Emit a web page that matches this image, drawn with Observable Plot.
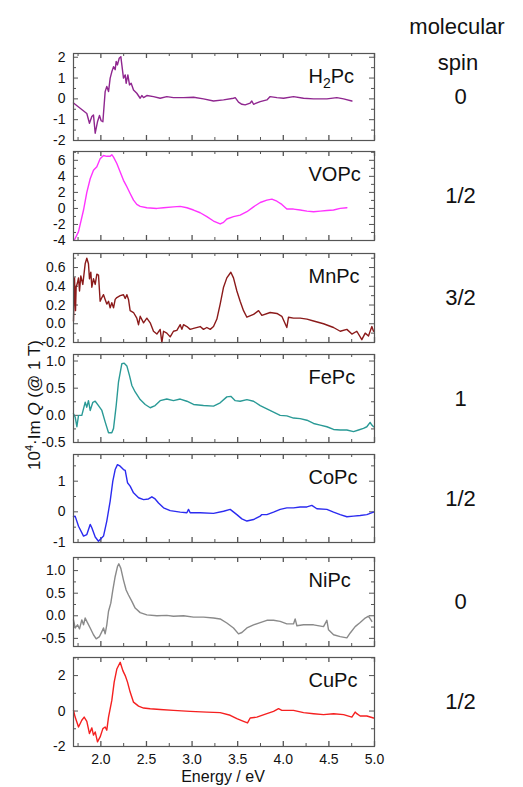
<!DOCTYPE html>
<html><head><meta charset="utf-8">
<script src="https://cdn.jsdelivr.net/npm/d3@7"></script>
<script src="https://cdn.jsdelivr.net/npm/@observablehq/plot@0.6"></script>
<style>
body{margin:0;background:#fff;}
#chart{position:relative;width:523px;height:787px;overflow:hidden;font-family:"Liberation Sans",Arial,sans-serif;color:#111;}
#chart svg{position:absolute;left:0;}
.lbl{position:absolute;transform:translate(-50%,-50%);white-space:nowrap;line-height:1.1;}
</style></head><body><div id="chart"></div>
<script>
// ---------- data ----------
const names = ["H2Pc","VOPc","MnPc","FePc","CoPc","NiPc","CuPc"];
const spins = ["0","1/2","3/2","1","1/2","0","1/2"];
const colors = ["#8f268f","#ff33ff","#8b1a1a","#2a9a96","#2b2bf0","#8a8a8a","#f52020"];
const xTicks = [2.0,2.5,3.0,3.5,4.0,4.5,5.0];
const xMinorTicks = [1.75,2.25,2.75,3.25,3.75,4.25,4.75];

const yDomains = [[-2,2.18],[-4,7.1],[-0.2,0.75],[-0.5,1.12],[-1,1.87],[-0.68,1.29],[-2,3.02]];
const yTicks = [[-2,-1,0,1,2],[-4,-2,0,2,4,6],[-0.2,0,0.2,0.4,0.6],[-0.5,0,0.5,1.0],[-1,0,1],[-0.5,0,0.5,1.0],[-2,0,2]];
const yMinorTicks = [[-1.5,-0.5,0.5,1.5],[-3,-1,1,3,5,7],[-0.1,0.1,0.3,0.5,0.7],[-0.25,0.25,0.75],[-0.5,0.5,1.5],[-0.25,0.25,0.75],[-1,1,3]];
const yDecimals = [0,0,1,1,0,1,0];

const h2pcE = [1.700,1.773,1.846,1.875,1.901,1.919,1.938,1.963,1.985,2.003,2.022,2.047,2.065,2.084,2.102,2.120,2.139,2.157,2.168,2.182,2.201,2.219,2.230,2.248,2.267,2.277,2.296,2.314,2.332,2.358,2.394,2.431,2.449,2.468,2.504,2.577,2.650,2.723,2.796,2.906,3.016,3.125,3.235,3.345,3.454,3.473,3.509,3.546,3.582,3.637,3.655,3.674,3.747,3.820,3.856,3.930,4.003,4.112,4.222,4.332,4.478,4.587,4.661,4.752];
const h2pcV = [-0.2,-0.45,-0.7,-1.17,-0.85,-0.77,-1.65,-1.1,-0.8,-1.05,-1.1,0.35,0.6,0.35,1.0,1.3,1.55,1.4,1.8,1.63,1.95,2.03,1.63,1.0,1.15,0.75,1.15,0.67,0.75,0.43,0.27,0.03,0.16,0.06,0.16,0.11,0.03,0.11,0.06,0.06,0.08,0.0,-0.1,-0.05,0.03,0.06,-0.16,-0.26,-0.29,-0.2,-0.1,-0.26,-0.13,-0.05,0.11,0.06,0.03,0.11,0.03,0.0,0.0,0.06,0.0,-0.1];

const vopcE = [1.711,1.755,1.810,1.846,1.883,1.919,1.956,1.992,2.029,2.065,2.102,2.120,2.139,2.175,2.212,2.248,2.267,2.285,2.321,2.358,2.394,2.431,2.504,2.614,2.687,2.796,2.870,2.943,3.016,3.089,3.162,3.235,3.308,3.345,3.381,3.454,3.527,3.601,3.674,3.747,3.820,3.875,3.930,3.984,4.039,4.112,4.185,4.259,4.332,4.405,4.478,4.551,4.624,4.697];
const vopcV = [-3.9,-2.9,-0.2,2.0,3.7,4.75,5.2,6.2,6.6,6.5,6.5,6.7,6.4,5.6,4.55,3.5,3.1,2.7,1.86,1.03,0.5,0.25,0.08,0.0,0.08,0.2,0.25,0.08,-0.2,-0.54,-1.03,-1.57,-1.94,-1.74,-1.32,-1.03,-0.83,-0.41,0.2,0.74,1.03,1.16,0.9,0.5,-0.08,-0.08,-0.2,-0.33,-0.41,-0.33,-0.25,-0.2,0.0,0.08];

const mnpcE = [1.700,1.711,1.722,1.729,1.744,1.755,1.766,1.780,1.802,1.828,1.846,1.864,1.875,1.890,1.901,1.919,1.938,1.956,1.974,1.992,2.011,2.029,2.047,2.065,2.084,2.102,2.120,2.139,2.157,2.175,2.212,2.248,2.267,2.285,2.303,2.321,2.358,2.394,2.413,2.431,2.468,2.504,2.541,2.577,2.614,2.650,2.669,2.687,2.723,2.760,2.796,2.833,2.870,2.888,2.906,2.943,2.979,3.016,3.089,3.125,3.162,3.199,3.235,3.272,3.308,3.345,3.381,3.425,3.454,3.491,3.527,3.564,3.601,3.674,3.729,3.765,3.856,3.930,3.984,4.039,4.057,4.112,4.185,4.259,4.332,4.441,4.551,4.624,4.697,4.752,4.806,4.861,4.898,4.934,4.971,4.989];
const mnpcV = [0.03,0.49,0.14,0.39,0.44,0.49,0.35,0.51,0.42,0.64,0.70,0.64,0.48,0.55,0.39,0.48,0.42,0.53,0.52,0.24,0.28,0.31,0.26,0.21,0.24,0.17,0.225,0.17,0.26,0.28,0.30,0.31,0.27,0.31,0.26,0.14,0.12,0.06,-0.01,0.08,0.01,0.06,0.01,-0.08,-0.11,-0.06,-0.20,-0.08,-0.10,-0.14,-0.08,-0.07,-0.01,-0.06,-0.01,-0.03,-0.06,-0.05,-0.03,-0.06,-0.04,-0.06,-0.03,0.05,0.21,0.39,0.49,0.55,0.49,0.35,0.24,0.14,0.07,0.10,0.14,0.09,0.12,0.11,0.08,-0.04,0.07,0.06,0.06,0.05,0.03,0.0,-0.04,-0.08,-0.06,-0.11,-0.08,-0.17,-0.10,-0.13,-0.03,-0.08];

const fepcE = [1.700,1.718,1.737,1.755,1.791,1.828,1.846,1.864,1.883,1.912,1.938,1.974,2.011,2.047,2.084,2.120,2.139,2.168,2.193,2.230,2.256,2.285,2.314,2.340,2.376,2.431,2.486,2.541,2.595,2.650,2.723,2.796,2.870,2.943,3.016,3.125,3.235,3.308,3.381,3.425,3.473,3.527,3.601,3.674,3.747,3.820,3.893,3.966,4.039,4.112,4.185,4.259,4.332,4.405,4.478,4.551,4.624,4.697,4.770,4.825,4.879,4.916,4.952,4.971,4.989];
const fepcV = [0.03,-0.03,-0.21,0.0,0.0,0.24,0.15,0.27,0.09,0.24,0.26,0.18,0.09,-0.12,-0.32,-0.32,-0.24,0.18,0.61,0.95,0.96,0.91,0.73,0.55,0.43,0.29,0.20,0.14,0.18,0.27,0.30,0.27,0.30,0.26,0.20,0.18,0.17,0.23,0.34,0.35,0.27,0.26,0.29,0.26,0.18,0.12,0.06,0.0,-0.01,-0.05,-0.06,-0.09,-0.15,-0.18,-0.21,-0.26,-0.27,-0.27,-0.30,-0.27,-0.24,-0.21,-0.13,-0.18,-0.21];

const copcE = [1.700,1.718,1.755,1.810,1.846,1.883,1.901,1.938,1.974,1.992,2.029,2.065,2.102,2.131,2.157,2.182,2.212,2.248,2.267,2.292,2.321,2.358,2.413,2.468,2.522,2.559,2.595,2.632,2.687,2.760,2.870,2.943,2.961,2.979,3.089,3.235,3.345,3.418,3.491,3.546,3.601,3.674,3.747,3.765,3.820,3.893,3.966,4.039,4.112,4.185,4.259,4.313,4.368,4.478,4.551,4.624,4.697,4.770,4.843,4.916,4.989];
const copcV = [-0.16,-0.14,-0.47,-0.79,-0.74,-0.41,-0.52,-0.82,-0.96,-0.90,-0.79,-0.30,0.35,1.0,1.38,1.54,1.49,1.38,1.35,0.95,0.84,0.62,0.46,0.40,0.42,0.49,0.42,0.29,0.13,0.04,-0.01,-0.03,0.08,-0.03,-0.03,-0.05,0.02,0.08,-0.09,-0.23,-0.30,-0.25,-0.14,-0.09,-0.09,-0.01,0.08,0.13,0.13,0.16,0.16,0.21,0.10,0.08,-0.01,-0.09,-0.16,-0.14,-0.12,-0.09,-0.01];

const nipcE = [1.700,1.718,1.744,1.766,1.791,1.810,1.828,1.846,1.883,1.919,1.949,1.985,2.011,2.029,2.047,2.065,2.084,2.109,2.131,2.157,2.182,2.197,2.219,2.248,2.277,2.303,2.340,2.376,2.431,2.504,2.614,2.723,2.796,2.906,3.016,3.125,3.235,3.308,3.381,3.454,3.509,3.546,3.601,3.674,3.747,3.820,3.893,3.966,4.039,4.112,4.130,4.149,4.222,4.332,4.441,4.478,4.496,4.551,4.624,4.697,4.734,4.788,4.843,4.898,4.934,4.971];
const nipcV = [-0.09,-0.27,-0.20,-0.29,-0.09,-0.20,-0.05,-0.125,-0.27,-0.42,-0.51,-0.46,-0.35,-0.27,-0.40,-0.20,0.10,0.28,0.57,0.87,1.09,1.15,1.05,0.79,0.57,0.46,0.32,0.17,0.07,0.02,0.0,0.01,-0.01,0.0,-0.03,-0.03,-0.05,-0.07,-0.16,-0.27,-0.40,-0.37,-0.27,-0.20,-0.15,-0.10,-0.10,-0.125,-0.18,-0.18,-0.07,-0.22,-0.20,-0.20,-0.24,-0.10,-0.31,-0.42,-0.46,-0.49,-0.38,-0.24,-0.15,-0.05,-0.01,-0.125];

const cupcE = [1.700,1.718,1.755,1.791,1.817,1.846,1.875,1.901,1.919,1.938,1.963,1.992,2.022,2.047,2.065,2.084,2.120,2.146,2.175,2.212,2.241,2.267,2.292,2.321,2.358,2.413,2.468,2.541,2.650,2.796,2.979,3.162,3.308,3.418,3.491,3.564,3.608,3.637,3.710,3.820,3.893,3.948,3.984,4.112,4.222,4.332,4.441,4.551,4.661,4.752,4.788,4.806,4.843,4.916,4.989];
const cupcV = [0.04,-0.34,-0.90,-0.52,-0.34,-0.58,-1.27,-0.95,-1.36,-1.18,-1.74,-1.46,-0.99,-0.90,-1.08,-0.34,0.60,1.63,2.37,2.75,2.28,2.00,1.63,1.07,0.50,0.28,0.17,0.13,0.09,0.04,-0.02,-0.06,-0.09,-0.24,-0.43,-0.58,-0.67,-0.39,-0.34,-0.15,-0.02,0.13,0.04,0.04,-0.09,-0.15,-0.20,-0.15,-0.20,-0.34,-0.06,-0.15,-0.28,-0.28,-0.39];

const energies = [h2pcE,vopcE,mnpcE,fepcE,copcE,nipcE,cupcE];
const values = [h2pcV,vopcV,mnpcV,fepcV,copcV,nipcV,cupcV];

// ---------- layout ----------
const W = 523, ML = 73, MR = 149, FW = W - ML - MR;
const frameTop = [53,151,253,354,454,557,657];
const frameBot = [140,240,342,442,542,646,746];
const FONT = '"Liberation Sans", Arial, sans-serif';
const chart = document.getElementById("chart");
const ink = "#111", frameInk = "#555";

function fixMinus(s){ return s.replace(/\u2212/g, "-"); }

function panel(i){
  const last = i === names.length - 1;
  const mt = 4, mb = last ? 40 : 4;
  const H = frameBot[i] - frameTop[i];
  const data = d3.zip(energies[i], values[i]).map(([x, y]) => ({x, y}));
  const fmt = d => fixMinus(d3.format("." + yDecimals[i] + "f")(d));
  const minors = yMinorTicks[i].filter(v => v >= yDomains[i][0] && v <= yDomains[i][1]);
  const marks = [
    Plot.tickY(yTicks[i], {y: d => d, insetRight: FW - 5, stroke: frameInk}),
    Plot.tickY(yTicks[i], {y: d => d, insetLeft: FW - 5, stroke: frameInk}),
    Plot.tickY(minors, {y: d => d, insetRight: FW - 3, stroke: frameInk}),
    Plot.tickY(minors, {y: d => d, insetLeft: FW - 3, stroke: frameInk}),
    Plot.tickX(xTicks, {x: d => d, insetTop: H - 5, stroke: frameInk, strokeWidth: 1.3}),
    Plot.tickX(xTicks, {x: d => d, insetBottom: H - 5, stroke: frameInk, strokeWidth: 1.3}),
    Plot.tickX(xMinorTicks, {x: d => d, insetTop: H - 3, stroke: frameInk}),
    Plot.tickX(xMinorTicks, {x: d => d, insetBottom: H - 3, stroke: frameInk}),
    Plot.axisY(yTicks[i], {tickSize: 0, tickPadding: 8, tickFormat: fmt, fontSize: 14, label: null, fill: ink}),
    Plot.line(data, {x: "x", y: "y", stroke: colors[i], strokeWidth: 1.4}),
    Plot.frame({stroke: frameInk, strokeWidth: 1.2}),
    Plot.text([names[i]], {text: d => d, frameAnchor: "top-left", dx: 235, dy: 23, textAnchor: "start", lineAnchor: "middle", fontSize: 20, fill: ink}),
    Plot.text([spins[i]], {text: d => d, frameAnchor: "right", dx: 86, textAnchor: "middle", lineAnchor: "middle", fontSize: 22, fill: ink})
  ];
  if (last) marks.push(Plot.axisX(xTicks, {tickSize: 0, tickPadding: 8, tickFormat: d3.format(".1f"), fontSize: 14, label: null, fill: ink}));
  const svg = Plot.plot({
    width: W, height: H + mt + mb,
    marginLeft: ML, marginRight: MR, marginTop: mt, marginBottom: mb,
    style: {fontFamily: FONT, color: ink, background: "transparent", overflow: "visible"},
    x: {domain: [1.7, 5.0], axis: last ? undefined : null},
    y: {domain: yDomains[i]},
    marks
  });
  svg.style.top = (frameTop[i] - mt) + "px";
  svg.querySelectorAll("text").forEach(t => {
    if (t.textContent === "H2Pc") {
      const ns = "http://www.w3.org/2000/svg";
      t.textContent = "";
      const a = document.createElementNS(ns, "tspan"); a.textContent = "H";
      const b = document.createElementNS(ns, "tspan"); b.textContent = "2"; b.setAttribute("dy", "5"); b.setAttribute("font-size", "14");
      const c = document.createElementNS(ns, "tspan"); c.textContent = "Pc"; c.setAttribute("dy", "-5");
      t.append(a, b, c);
    }
  });
  chart.appendChild(svg);
}
names.forEach((_, i) => panel(i));

function label(html, x, y, size, rotate){
  const d = document.createElement("div");
  d.className = "lbl";
  d.innerHTML = html;
  d.style.left = x + "px"; d.style.top = y + "px"; d.style.fontSize = size + "px";
  if (rotate) d.style.transform = "translate(-50%,-50%) rotate(-90deg)";
  chart.appendChild(d);
}
label("molecular", 457, 27, 22);
label("spin", 458, 63, 22);
label("Energy / eV", 223, 777, 16);
label('10<sup style="font-size:11px;vertical-align:7px">4</sup>·Im <i>Q</i> (@ 1 T)', 34, 405, 17, true);
</script>
</body></html>
